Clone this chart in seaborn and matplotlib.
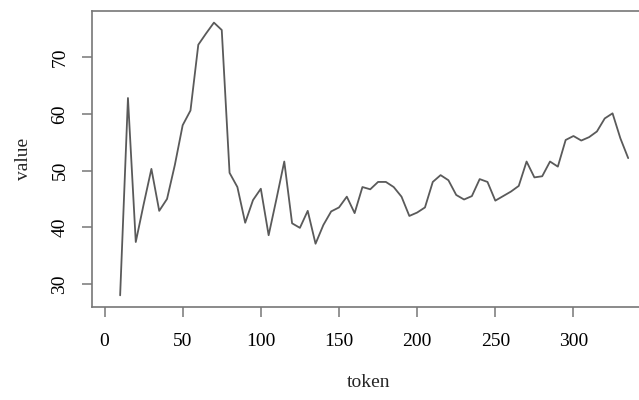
import numpy as np
import pandas as pd
import matplotlib
matplotlib.use("Agg")
import matplotlib.pyplot as plt
import seaborn as sns

token = list(range(10, 340, 5))
value = [28.0, 62.8, 37.4, 44.0, 50.3, 42.9, 45.0, 51.0, 58.0, 60.6,
         72.2, 74.2, 76.1, 74.8, 49.6, 47.1, 40.8, 44.8, 46.8, 38.6,
         45.0, 51.6, 40.7, 39.9, 42.9, 37.1, 40.4, 42.8, 43.5, 45.4,
         42.5, 47.1, 46.7, 48.0, 48.0, 47.1, 45.4, 42.0, 42.6, 43.5,
         48.0, 49.2, 48.3, 45.7, 44.9, 45.5, 48.5, 48.0, 44.7, 45.5,
         46.3, 47.3, 51.6, 48.8, 49.0, 51.6, 50.7, 55.4, 56.1, 55.3,
         55.9, 56.9, 59.2, 60.1, 55.7, 52.2]
xticks = [0, 50, 100, 150, 200, 250, 300]
yticks = [30, 40, 50, 60, 70]

df = pd.DataFrame({"token": token, "value": value})

sns.set_style("ticks")
plt.rcParams['font.family'] = ['Liberation Serif', 'DejaVu Serif']

fig = plt.figure(figsize=(6.39, 4.0), dpi=100)
W, H = 639, 400
ax = fig.add_axes([92 / W, (H - 307) / H, (646 - 92) / W, (307 - 11) / H])

sns.lineplot(data=df, x="token", y="value", ax=ax, color="#5a5a5a", linewidth=1.3)

ax.set_xlim(-8.0, 346.4)
ax.set_ylim(25.94, 78.15)
ax.set_xticks(xticks)
ax.set_yticks(yticks)
ax.set_xticklabels([str(t) for t in xticks])
ax.set_yticklabels([str(t) for t in yticks], rotation=90, va="center")

for s in ax.spines.values():
    s.set_color("#777777")
    s.set_linewidth(1.2)

ax.tick_params(axis="both", which="major", length=7, width=1.1, color="#777777",
               labelsize=14, labelcolor="black", direction="out")
ax.tick_params(axis="x", pad=12)
ax.tick_params(axis="y", pad=10)

ax.set_xlabel("token", fontsize=14, labelpad=17)
ax.set_ylabel("value", fontsize=14, labelpad=14)

fig.savefig("out.png", dpi=100)
